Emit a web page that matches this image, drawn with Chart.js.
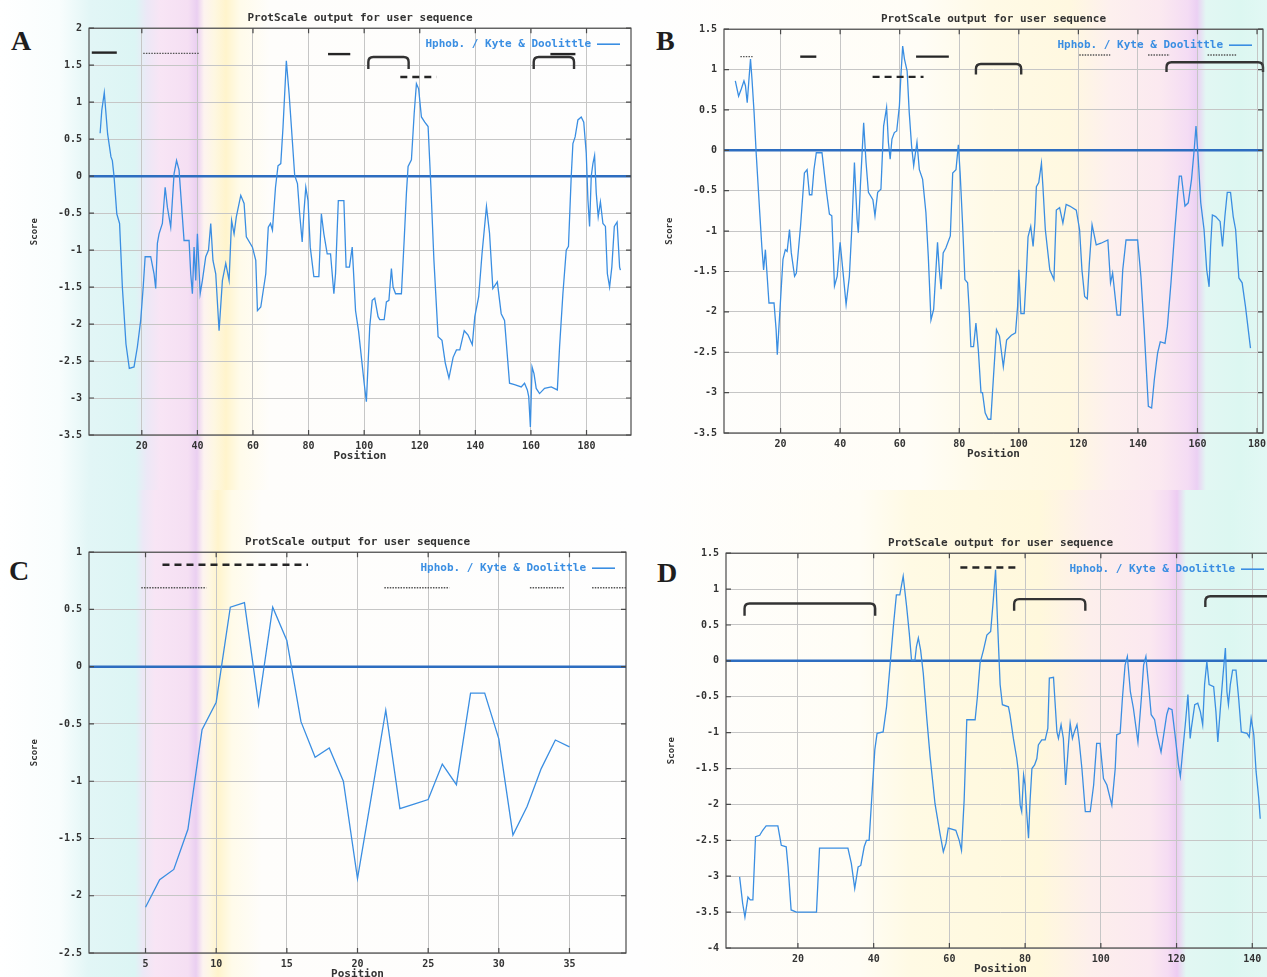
<!DOCTYPE html>
<html>
<head>
<meta charset="utf-8">
<script src="https://cdn.jsdelivr.net/npm/chart.js@4.4.1/dist/chart.umd.min.js"></script>
<style>
  html, body { margin: 0; width: 1267px; height: 977px; overflow: hidden; background: #fff; }
  .bg { position: absolute; left: 0; width: 1267px; }
  #bgTop { top: 0; height: 490px;
    background: linear-gradient(to right, #ffffff 0px, #f8fdfd 60px, #e2f6f6 90px, #dcf5f4 135px, #ece8f6 147px, #f8e5f5 160px, #f5dff3 188px, #eacff1 197px, #fdf3f0 204px, #fef7e2 214px, #fff4cc 226px, #fffbea 240px, #fefdfb 270px, #fefefe 640px, #fffdf6 920px, #fffae6 990px, #fff8e0 1070px, #fdf0ee 1110px, #fbe9f0 1160px, #f4dcf4 1188px, #ebd0f3 1197px, #e2f7f3 1206px, #dcf7f1 1240px, #e2f8f4 1267px); }
  #bgBot { top: 490px; height: 487px;
    background: linear-gradient(to right, #ffffff 0px, #f8fdfd 60px, #e2f6f6 88px, #dcf5f4 135px, #ece8f6 143px, #f8e5f5 155px, #f5dff3 188px, #eacff1 196px, #fdf3f0 203px, #fef7e2 210px, #fff4cc 218px, #fffbea 232px, #fefdfb 262px, #fefefe 640px, #fffdf5 860px, #fffae4 910px, #fff8dc 1040px, #fdefec 1090px, #fbe8f0 1150px, #f5dcf3 1168px, #edccf2 1177px, #e2f7f3 1186px, #dcf7f1 1230px, #e2f8f4 1267px); }
  canvas { position: absolute; }
  .letter { position: absolute; font: bold 28px "Liberation Serif", serif; color: #1e1e1e; line-height: 1; }
</style>
</head>
<body>
<div class="bg" id="bgTop"></div>
<div class="bg" id="bgBot"></div>
<div class="letter" style="left:11px;top:27px">A</div>
<div class="letter" style="left:656px;top:27px">B</div>
<div class="letter" style="left:9px;top:557px">C</div>
<div class="letter" style="left:657px;top:559px">D</div>
<canvas id="chartA"></canvas>
<canvas id="chartB"></canvas>
<canvas id="chartC"></canvas>
<canvas id="chartD"></canvas>
<script>
// ---- Panel A: Kyte & Doolittle hydropathy, window 9 ----
const positionsA = [5,5.6,6.5,7.7,8.9,9.4,10,11,12,13,14.3,15.5,17.2,18.4,19.6,20.5,21.2,23.2,24.4,25,25.6,26.2,27.4,28.4,29.2,30.4,31.6,32.5,33.4,35.2,37,37.6,38.2,38.8,39.4,40,41,41.8,43,44,44.8,45.6,46.6,47.8,49,50.2,51.4,52.3,53.2,54,55.6,56.8,57.6,59.8,61,61.6,62.8,64.6,65.5,66.3,67,68.1,69,70,70.8,72,73,73.9,75,76,76.8,77.7,78.3,79,79.8,80.6,81.9,83.7,84.6,85.5,86.7,87.9,89.1,89.7,90.7,92.7,93.5,94.7,95.7,96.9,98,99,100,100.8,102,102.9,103.8,105,105.6,107.2,108,108.9,109.8,110.4,111.3,113.4,114.4,115.2,115.8,117,118,118.8,119.6,120.6,121.8,123,124,125.1,126.6,128,129.2,130.5,132,133.2,134.4,136,137.4,138.9,139.8,141.2,142.4,144,145.1,146.3,147.9,149.3,150.5,152.3,154.1,156.5,157.7,158.7,159.2,159.8,160.4,161.1,161.9,163.1,164.9,167.3,169.5,170.3,171.5,172.7,173.5,174.5,175.1,175.9,176.9,178.1,179,179.9,180.5,181.1,181.7,182.3,182.9,183.5,184.2,185,185.9,186.8,187.5,188.3,189.1,190,191,191.9,192.2];
const scoresA = [0.58,0.89,1.13,0.57,0.26,0.21,0,-0.51,-0.64,-1.5,-2.27,-2.6,-2.58,-2.31,-1.95,-1.5,-1.09,-1.09,-1.32,-1.52,-0.91,-0.78,-0.64,-0.15,-0.42,-0.69,0.03,0.21,0.08,-0.87,-0.87,-1.32,-1.59,-0.96,-1.41,-0.78,-1.59,-1.41,-1.09,-1.0,-0.64,-1.14,-1.32,-2.09,-1.41,-1.18,-1.41,-0.6,-0.78,-0.55,-0.26,-0.37,-0.82,-0.96,-1.14,-1.82,-1.77,-1.32,-0.69,-0.64,-0.73,-0.15,0.14,0.17,0.66,1.56,1.11,0.62,0.01,-0.1,-0.51,-0.89,-0.5,-0.15,-0.33,-0.96,-1.36,-1.36,-0.51,-0.78,-1.05,-1.05,-1.59,-1.32,-0.33,-0.33,-1.23,-1.23,-0.96,-1.82,-2.1,-2.45,-2.8,-3.05,-2.04,-1.68,-1.65,-1.9,-1.94,-1.94,-1.7,-1.68,-1.25,-1.5,-1.59,-1.59,-0.86,-0.23,0.13,0.22,0.85,1.25,1.18,0.8,0.73,0.67,-0.14,-1.14,-2.17,-2.22,-2.53,-2.73,-2.45,-2.35,-2.35,-2.09,-2.15,-2.28,-1.9,-1.63,-1.05,-0.41,-0.77,-1.52,-1.43,-1.86,-1.95,-2.8,-2.82,-2.85,-2.8,-2.89,-2.98,-3.39,-2.58,-2.67,-2.87,-2.94,-2.87,-2.85,-2.89,-2.31,-1.59,-1.0,-0.95,0,0.44,0.53,0.76,0.8,0.73,0.31,-0.32,-0.68,0,0.17,0.28,-0.23,-0.55,-0.35,-0.64,-0.68,-1.32,-1.5,-1.23,-0.68,-0.62,-1.23,-1.27];
const xTicksA = [20,40,60,80,100,120,140,160,180];
const yTicksA = [2,1.5,1,0.5,0,-0.5,-1,-1.5,-2,-2.5,-3,-3.5];
// marks above the curve: [from, to, score] and brackets [from, to, top, leg end]
const solidA = [[2,11,1.67],[87,95,1.65],[167,176,1.65]];
const dashedA = [[113,126,1.34]];
const dottedA = [[20.5,40.5,1.66]];
const bracketsA = [[101.5,116,1.61,1.45],[161,175.5,1.61,1.45]];

// ---- Panel B ----
const positionsB = [4.8,5.9,6.8,7.7,8.2,8.8,9.3,9.9,10.4,11.1,11.8,13,13.7,14.3,14.9,15.5,16.1,17.8,18.5,18.9,19.4,20.2,20.8,21.6,22.2,23,23.6,24.7,25.3,26.7,28,28.9,29.7,30.5,31.2,32,33.9,35.3,36.4,37.2,38.1,39,40,40.9,42,43.1,43.9,44.8,45.7,46.1,46.8,47.9,48.7,49.5,51,51.7,52.6,53.7,54.6,55.6,56.2,56.8,57.4,58.2,59,59.9,60.4,61,61.6,62.5,63.2,64,64.7,65.3,65.8,66.6,67.7,68.8,69.6,70.5,71.4,72.7,73.3,73.9,74.6,75.5,77,77.8,78.9,79.7,80.3,81.1,81.9,82.8,83.4,83.9,84.8,85.6,86.4,87.3,87.8,88.7,89.7,90.6,91.5,92.5,93.5,94.8,95.9,97.5,98.9,99.6,100,100.7,101.8,102.6,103.1,104,104.8,105.4,105.9,106.7,107.6,108.1,108.9,110.4,111.8,112.6,113.7,114.8,115.9,117.1,119.3,120.4,121.2,122.1,123,123.7,124.6,126,127.6,129.9,130.8,131.5,133,134.1,134.9,136,139.9,141,142.1,143.5,144.6,145.5,146.6,147.5,149.1,149.9,151.1,152.4,153.3,153.9,154.6,155.8,156.9,158,158.9,159.5,160.2,161.1,162.2,163.1,163.9,164.4,165,166.1,167.6,168.4,169.2,170,171.1,172,172.8,173.9,175,176.1,177.8];
const scoresB = [0.86,0.67,0.76,0.86,0.8,0.59,0.84,1.13,0.88,0.47,-0.03,-0.77,-1.19,-1.48,-1.23,-1.56,-1.89,-1.89,-2.22,-2.53,-2.22,-1.72,-1.35,-1.23,-1.25,-0.98,-1.27,-1.56,-1.52,-0.94,-0.28,-0.24,-0.55,-0.55,-0.24,-0.03,-0.03,-0.48,-0.79,-0.81,-1.68,-1.56,-1.14,-1.48,-1.91,-1.56,-0.98,-0.15,-0.86,-1.02,-0.44,0.34,-0.15,-0.52,-0.61,-0.81,-0.52,-0.48,0.3,0.53,0.1,-0.11,0.14,0.22,0.24,0.55,0.92,1.29,1.13,0.98,0.47,0.05,-0.19,-0.03,0.1,-0.24,-0.36,-0.77,-1.31,-2.1,-1.97,-1.14,-1.48,-1.72,-1.27,-1.21,-1.06,-0.28,-0.24,0.07,-0.28,-0.9,-1.6,-1.64,-2.01,-2.43,-2.43,-2.14,-2.47,-3.0,-3.0,-3.25,-3.33,-3.33,-2.8,-2.22,-2.3,-2.68,-2.35,-2.29,-2.26,-1.93,-1.48,-2.02,-2.02,-1.48,-1.07,-0.94,-1.19,-0.9,-0.45,-0.4,-0.16,-0.45,-0.98,-1.48,-1.6,-0.74,-0.71,-0.9,-0.67,-0.69,-0.74,-0.98,-1.48,-1.81,-1.84,-1.39,-0.92,-1.17,-1.15,-1.11,-1.64,-1.52,-2.04,-2.04,-1.48,-1.11,-1.11,-1.56,-2.22,-3.17,-3.19,-2.84,-2.51,-2.37,-2.39,-2.18,-1.64,-0.98,-0.57,-0.32,-0.32,-0.69,-0.65,-0.36,0.01,0.3,-0.07,-0.65,-0.98,-1.48,-1.69,-1.19,-0.8,-0.82,-0.88,-1.19,-0.82,-0.52,-0.52,-0.82,-0.98,-1.58,-1.64,-1.93,-2.45];
const xTicksB = [20,40,60,80,100,120,140,160,180];
const yTicksB = [1.5,1,0.5,0,-0.5,-1,-1.5,-2,-2.5,-3,-3.5];
const solidB = [[26.6,32,1.16],[65.5,76.5,1.16]];
const dashedB = [[50.9,68,0.91]];
const dottedB = [[6.5,10.6,1.16],[120.3,130.7,1.18],[143.4,150.7,1.18],[163.4,173.2,1.18]];
const bracketsB = [[85.6,100.8,1.07,0.94],[149.6,182,1.09,0.97]];

// ---- Panel C ----
const positionsC = [5,6,7,8,9,10,11,12,13,14,15,16,17,18,19,20,21,22,23,24,25,26,27,28,29,30,31,32,33,34,35];
const scoresC = [-2.1,-1.86,-1.77,-1.42,-0.55,-0.31,0.52,0.56,-0.33,0.52,0.23,-0.48,-0.79,-0.71,-1.0,-1.85,-1.12,-0.38,-1.24,-1.2,-1.16,-0.85,-1.03,-0.23,-0.23,-0.63,-1.47,-1.22,-0.89,-0.64,-0.7];
const xTicksC = [5,10,15,20,25,30,35];
const yTicksC = [1,0.5,0,-0.5,-1,-1.5,-2,-2.5];
const solidC = [];
const dashedC = [[6.2,16.5,0.89]];
const dottedC = [[4.7,9.3,0.69],[21.9,26.5,0.69],[32.2,34.6,0.69],[36.6,39,0.69]];
const bracketsC = [];

// ---- Panel D ----
const positionsD = [4.6,5.4,6,6.8,7.4,8.1,8.8,9.9,10.7,11.6,14.7,15.6,16.9,17.4,18.2,19.6,24.9,25.7,33.2,34.1,35,35.9,36.6,37.5,38.1,38.8,39.4,40.3,40.9,42.5,43.4,44.3,45.2,46,46.9,47.8,48.7,49.4,50,50.9,51.3,51.8,52.4,53.1,54,54.9,56.2,57.5,58.4,59.1,59.7,61.7,62.6,63.2,63.9,64.6,66.8,67.4,68.1,69,69.9,70.9,71.6,72.2,72.5,73,73.4,74,75.6,76,76.9,77.8,78.2,78.7,79.1,79.6,80,80.4,80.9,81.3,81.8,82.5,83.1,83.5,84.4,85.3,86,86.4,87.5,87.9,88.4,88.8,89.5,90.1,90.7,91.5,91.9,92.5,93,93.7,94.3,95,95.9,97.2,98.1,98.9,99.8,100.7,101.6,102.9,103.8,104.2,105.1,105.7,106.4,107,107.8,108.6,109.8,110.7,111.3,111.9,112.6,113.3,114.2,114.8,115.9,116.6,117.4,117.9,118.8,119.6,120.5,121,121.6,122.3,123,123.6,123.9,124.8,125.6,126.3,126.9,127.4,128,128.6,129.8,130.4,130.9,131.5,132.2,132.9,133.3,133.7,134.2,134.8,135.7,136.4,137.1,138.6,139.2,139.7,140.4,141,141.7,142.1];
const scoresD = [-3.01,-3.38,-3.57,-3.29,-3.33,-3.33,-2.45,-2.43,-2.36,-2.3,-2.3,-2.57,-2.59,-2.87,-3.47,-3.5,-3.5,-2.61,-2.61,-2.82,-3.17,-2.87,-2.85,-2.59,-2.5,-2.5,-1.99,-1.24,-1.01,-0.99,-0.64,-0.08,0.48,0.92,0.92,1.18,0.76,0.39,0.01,0.01,0.2,0.32,0.15,-0.17,-0.78,-1.33,-1.99,-2.4,-2.66,-2.54,-2.33,-2.36,-2.5,-2.64,-1.94,-0.82,-0.82,-0.5,-0.03,0.15,0.36,0.41,0.85,1.27,0.83,0.18,-0.33,-0.61,-0.64,-0.75,-1.08,-1.36,-1.54,-2.01,-2.1,-1.59,-1.73,-2.1,-2.47,-1.96,-1.5,-1.45,-1.36,-1.17,-1.1,-1.1,-0.94,-0.24,-0.23,-0.57,-0.99,-1.08,-0.89,-1.08,-1.73,-1.13,-0.87,-1.08,-0.99,-0.89,-1.13,-1.5,-2.1,-2.1,-1.73,-1.15,-1.15,-1.64,-1.73,-2.01,-1.5,-1.03,-1.01,-0.52,-0.06,0.06,-0.43,-0.66,-1.13,-0.52,-0.06,0.06,-0.33,-0.75,-0.82,-1.01,-1.27,-1.03,-0.75,-0.66,-0.68,-1.03,-1.45,-1.61,-1.27,-0.89,-0.47,-1.08,-0.94,-0.61,-0.59,-0.71,-0.89,-0.33,-0.01,-0.33,-0.36,-0.71,-1.13,-0.71,-0.24,0.18,-0.43,-0.61,-0.33,-0.13,-0.13,-0.52,-0.99,-1.01,-1.06,-0.8,-1.03,-1.54,-1.91,-2.2];
const xTicksD = [20,40,60,80,100,120,140];
const yTicksD = [1.5,1,0.5,0,-0.5,-1,-1.5,-2,-2.5,-3,-3.5,-4];
const solidD = [];
const dashedD = [[62.9,78.2,1.3]];
const dottedD = [];
const bracketsD = [[5.9,40.4,0.8,0.63],[77.1,95.9,0.86,0.7],[127.6,150,0.9,0.75]];

const curveColor = '#3a8ee2';
const zeroColor = '#2d6dc0';
const mono = "'DejaVu Sans Mono', monospace";
const tickFont = { family: mono, size: 10, weight: 'bold' };
const textFont = { family: mono, size: 11, weight: 'bold' };

// gnuplot-like frame with inward ticks on all sides
const framePlugin = {
  id: 'frame',
  afterDraw(chart) {
    const { ctx, chartArea: a, scales: { x, y } } = chart;
    ctx.save();
    ctx.strokeStyle = '#4a4a4a';
    ctx.lineWidth = 1.2;
    ctx.strokeRect(a.left, a.top, a.right - a.left, a.bottom - a.top);
    ctx.beginPath();
    x.ticks.forEach(t => {
      const px = x.getPixelForValue(t.value);
      ctx.moveTo(px, a.bottom); ctx.lineTo(px, a.bottom - 5);
      ctx.moveTo(px, a.top); ctx.lineTo(px, a.top + 5);
    });
    y.ticks.forEach(t => {
      const py = y.getPixelForValue(t.value);
      ctx.moveTo(a.left, py); ctx.lineTo(a.left + 5, py);
      ctx.moveTo(a.right, py); ctx.lineTo(a.right - 5, py);
    });
    ctx.stroke();
    ctx.restore();
  }
};

// gnuplot key: label text followed by a line sample, top right inside the frame
const keyPlugin = {
  id: 'key',
  afterDraw(chart) {
    const { ctx, chartArea: a } = chart;
    const ds = chart.data.datasets[0];
    const y = a.top + 16;
    ctx.save();
    ctx.font = `bold 11px ${mono}`;
    ctx.fillStyle = curveColor;
    ctx.textAlign = 'right';
    ctx.textBaseline = 'middle';
    ctx.fillText(ds.label, a.right - 40, y);
    ctx.strokeStyle = curveColor;
    ctx.lineWidth = 1.6;
    ctx.beginPath();
    ctx.moveTo(a.right - 34, y); ctx.lineTo(a.right - 11, y);
    ctx.stroke();
    ctx.restore();
  }
};

function marksPlugin(m) {
  return {
    id: 'marks',
    afterDatasetsDraw(chart) {
      const { ctx, scales: { x, y } } = chart;
      const X = v => x.getPixelForValue(v), Y = v => y.getPixelForValue(v);
      ctx.save();
      ctx.lineCap = 'butt';
      const seg = (list, color, w, dash) => {
        ctx.strokeStyle = color; ctx.lineWidth = w; ctx.setLineDash(dash);
        list.forEach(([a, b, v]) => {
          ctx.beginPath(); ctx.moveTo(X(a), Y(v)); ctx.lineTo(X(b), Y(v)); ctx.stroke();
        });
      };
      seg(m.solid, '#252525', 2.4, []);
      seg(m.dashed, '#252525', 2.4, [7, 5]);
      seg(m.dotted, '#555', 1.4, [1.5, 1.2]);
      ctx.setLineDash([]);
      ctx.strokeStyle = '#333';
      ctx.lineWidth = 2.4;
      m.brackets.forEach(([a, b, top, leg]) => {
        const x0 = X(a), x1 = X(b), yt = Y(top), yl = Y(leg), r = 5;
        ctx.beginPath();
        ctx.moveTo(x0, yl); ctx.lineTo(x0, yt + r);
        ctx.quadraticCurveTo(x0, yt, x0 + r, yt);
        ctx.lineTo(x1 - r, yt);
        ctx.quadraticCurveTo(x1, yt, x1, yt + r);
        ctx.lineTo(x1, yl);
        ctx.stroke();
      });
      ctx.restore();
    }
  };
}

function makePanel(id, box, d) {
  const yW = 64, xH = 28, tH = 18.2, padR = 10;
  const cv = document.getElementById(id);
  cv.width = Math.round(box.R - box.L + yW + padR);
  cv.height = Math.round(box.B - box.T + tH + xH);
  cv.style.left = Math.round(box.L - yW) + 'px';
  cv.style.top = Math.round(box.T - tH) + 'px';

  new Chart(cv, {
    type: 'line',
    data: {
      datasets: [
        { label: 'Hphob. / Kyte & Doolittle', data: d.xs.map((x, i) => ({ x, y: d.ys[i] })),
          borderColor: curveColor, borderWidth: 1.3, pointRadius: 0, tension: 0, order: 1 },
        { label: 'zero', data: [{ x: d.xMin, y: 0 }, { x: d.xMax, y: 0 }],
          borderColor: zeroColor, borderWidth: 2.5, pointRadius: 0, order: 2 }
      ]
    },
    options: {
      responsive: false,
      animation: false,
      devicePixelRatio: 1,
      layout: { padding: { right: padR } },
      scales: {
        x: {
          type: 'linear', min: d.xMin, max: d.xMax,
          afterBuildTicks: s => { s.ticks = d.xTicks.map(v => ({ value: v })); },
          afterFit: s => { s.height = xH; },
          grid: { color: '#c6c6c6', drawTicks: false },
          border: { display: false },
          ticks: { padding: 5, font: tickFont, color: '#333', callback: v => String(v), maxRotation: 0 },
          title: { display: true, text: 'Position', font: textFont, color: '#333', padding: 0 }
        },
        y: {
          type: 'linear', min: d.yMin, max: d.yMax,
          afterBuildTicks: s => { s.ticks = d.yTicks.map(v => ({ value: v })); },
          afterFit: s => { s.width = yW; },
          grid: { color: '#c6c6c6', drawTicks: false },
          border: { display: false },
          ticks: { padding: 7, font: tickFont, color: '#333', callback: v => String(v) },
          title: { display: true, text: 'Score', font: { family: mono, size: 9, weight: 'bold' }, color: '#333', padding: { top: 4, bottom: 0 } }
        }
      },
      plugins: {
        title: { display: true, text: 'ProtScale output for user sequence', fullSize: false,
                 font: textFont, color: '#333', padding: { top: 2, bottom: 3 } },
        legend: { display: false },
        tooltip: { enabled: false }
      }
    },
    plugins: [framePlugin, keyPlugin, marksPlugin(d.marks)]
  });
}

makePanel('chartA', { L: 88.5, T: 28, R: 630.5, B: 435 },
  { xs: positionsA, ys: scoresA, xMin: 1, xMax: 196, yMin: -3.5, yMax: 2, xTicks: xTicksA, yTicks: yTicksA,
    marks: { solid: solidA, dashed: dashedA, dotted: dottedA, brackets: bracketsA } });
makePanel('chartB', { L: 723.5, T: 29, R: 1262.5, B: 433 },
  { xs: positionsB, ys: scoresB, xMin: 1, xMax: 182, yMin: -3.5, yMax: 1.5, xTicks: xTicksB, yTicks: yTicksB,
    marks: { solid: solidB, dashed: dashedB, dotted: dottedB, brackets: bracketsB } });
makePanel('chartC', { L: 88.5, T: 552, R: 625, B: 953 },
  { xs: positionsC, ys: scoresC, xMin: 1, xMax: 39, yMin: -2.5, yMax: 1, xTicks: xTicksC, yTicks: yTicksC,
    marks: { solid: solidC, dashed: dashedC, dotted: dottedC, brackets: bracketsC } });
makePanel('chartD', { L: 726, T: 553, R: 1274.5, B: 948 },
  { xs: positionsD, ys: scoresD, xMin: 1, xMax: 146, yMin: -4, yMax: 1.5, xTicks: xTicksD, yTicks: yTicksD,
    marks: { solid: solidD, dashed: dashedD, dotted: dottedD, brackets: bracketsD } });
</script>
</body>
</html>
